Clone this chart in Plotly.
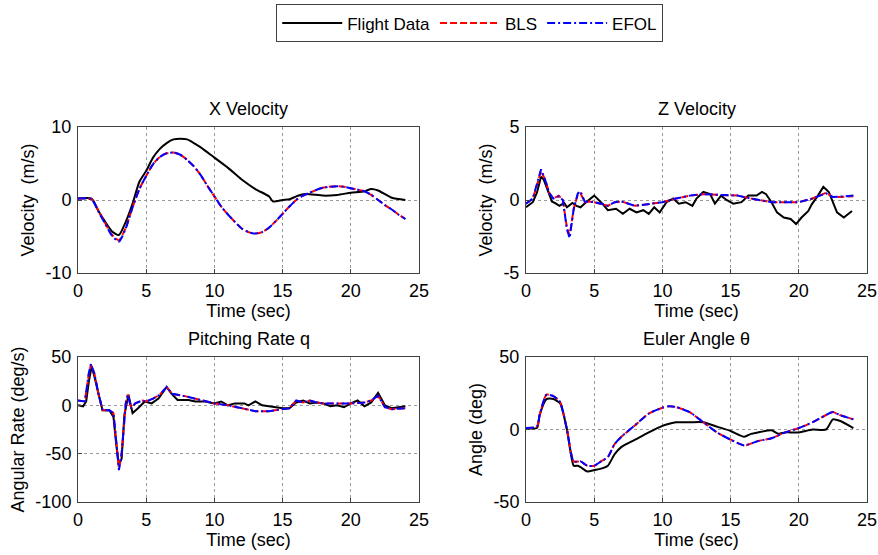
import plotly.graph_objects as go

# ---------------- data ----------------
xv_t_flight = [0, 1, 1.5, 2, 2.5, 3, 3.5, 4, 4.5, 5, 5.5, 6, 6.5, 7, 7.5, 8, 8.5, 9, 10, 11, 12, 13, 14, 14.3, 15, 15.5, 16, 16.5, 17, 18, 19, 20, 21, 21.5, 22, 23, 24]
xv_flight = [0.2, 0.2, -1.5, -3.0, -4.3, -4.8, -3.0, -0.5, 2.5, 4.0, 5.8, 7.0, 7.8, 8.3, 8.4, 8.3, 7.8, 7.2, 5.8, 4.4, 2.8, 1.5, 0.5, -0.2, 0.0, 0.1, 0.5, 0.8, 0.8, 0.6, 0.7, 1.0, 1.2, 1.5, 1.3, 0.3, 0.0]
xv_t_model = [0, 1, 1.5, 2, 2.5, 3, 3.5, 4, 4.5, 5, 5.5, 6, 6.5, 7, 7.5, 8, 8.5, 9, 9.5, 10, 10.5, 11, 11.5, 12, 12.5, 13, 13.5, 14, 14.5, 15, 15.5, 16, 16.5, 17, 17.5, 18, 19, 19.5, 20, 21, 21.5, 22, 22.5, 23, 23.5, 24]
xv_bls = [0.2, 0.1, -1.5, -3.2, -4.8, -5.5, -3.8, -1.0, 1.5, 3.3, 4.9, 5.9, 6.4, 6.5, 6.2, 5.5, 4.6, 3.4, 1.9, 0.5, -0.9, -2.0, -3.0, -3.9, -4.4, -4.6, -4.4, -3.8, -2.9, -1.9, -0.9, 0.0, 0.6, 1.0, 1.4, 1.7, 1.9, 1.8, 1.6, 1.2, 0.7, 0.0, -0.7, -1.3, -2.0, -2.6]
xv_efol = [0.2, 0.1, -1.6, -3.3, -4.9, -5.7, -3.9, -1.0, 1.5, 3.3, 4.9, 5.9, 6.4, 6.5, 6.2, 5.5, 4.6, 3.4, 1.9, 0.5, -0.9, -2.0, -3.0, -3.9, -4.4, -4.6, -4.4, -3.8, -2.9, -1.9, -0.9, 0.0, 0.6, 1.0, 1.4, 1.7, 1.9, 1.8, 1.6, 1.2, 0.7, 0.0, -0.7, -1.3, -2.0, -2.6]

zv_t_flight = [0, 0.5, 0.8, 1.1, 1.3, 1.6, 1.9, 2.2, 2.45, 2.8, 3.0, 3.4, 3.7, 4.0, 4.4, 5.0, 5.6, 6.0, 6.6, 7.1, 7.6, 8.1, 8.6, 9.0, 9.4, 9.8, 10.3, 10.8, 11.2, 11.7, 12.2, 12.5, 13.0, 13.5, 13.85, 14.3, 14.7, 15.2, 15.8, 16.3, 16.9, 17.3, 17.6, 18.0, 18.4, 18.9, 19.4, 19.8, 20.2, 20.7, 20.95, 21.4, 21.8, 22.2, 22.5, 22.8, 23.3, 23.6, 23.9]
zv_flight = [-0.5, -0.15, 0.5, 1.6, 1.4, 0.6, -0.1, -0.25, -0.4, -0.2, -0.5, -0.2, -0.4, -0.5, -0.15, 0.3, -0.25, -0.7, -0.6, -0.95, -0.6, -0.85, -0.7, -0.95, -0.5, -0.85, -0.15, 0.1, -0.25, -0.15, -0.4, 0.1, 0.55, 0.4, -0.25, 0.3, 0.0, -0.25, -0.15, 0.3, 0.3, 0.55, 0.4, -0.15, -0.85, -1.2, -1.3, -1.65, -1.2, -0.75, -0.3, 0.3, 0.9, 0.55, -0.15, -0.85, -1.2, -0.95, -0.75]
zv_t_model = [0, 0.5, 0.8, 1.1, 1.4, 1.7, 2.0, 2.4, 2.7, 3.0, 3.2, 3.5, 3.8, 4.0, 4.3, 4.6, 5, 5.5, 6, 6.5, 7, 8, 9, 10, 11, 12, 13, 14, 15, 15.5, 16.5, 17.5, 18, 19, 20, 21, 21.5, 22, 22.5, 23, 24]
zv_bls = [-0.25, 0.1, 1.0, 2.0, 1.4, 0.5, 0.1, 0.3, 0.0, -1.9, -2.4, -0.6, 0.4, 0.45, -0.15, -0.1, -0.15, -0.25, -0.4, -0.15, -0.1, -0.4, -0.25, -0.15, 0.1, 0.3, 0.4, 0.35, 0.3, 0.3, 0.1, -0.1, -0.15, -0.15, -0.15, 0.1, 0.3, 0.5, 0.2, 0.2, 0.25]
zv_efol = [-0.25, 0.1, 1.1, 2.1, 1.4, 0.5, 0.1, 0.25, 0.0, -2.0, -2.6, -0.6, 0.45, 0.6, -0.1, -0.1, -0.15, -0.25, -0.4, -0.15, -0.1, -0.4, -0.25, -0.15, 0.1, 0.3, 0.4, 0.35, 0.3, 0.3, 0.1, -0.1, -0.15, -0.15, -0.15, 0.1, 0.3, 0.45, 0.2, 0.25, 0.3]

q_t_flight = [0, 0.37, 0.6, 0.8, 1.0, 1.2, 1.5, 1.8, 2.3, 2.6, 2.8, 3.0, 3.2, 3.4, 3.7, 4.0, 4.4, 4.9, 5.4, 5.9, 6.5, 6.85, 7.3, 8.1, 8.6, 9.3, 10, 10.5, 11, 11.5, 12.2, 12.5, 13, 13.5, 14, 14.5, 15, 15.5, 16, 16.5, 17, 17.5, 18, 18.5, 19, 19.5, 20, 20.5, 21, 21.5, 22, 22.5, 23, 23.5, 24]
q_flight = [0, -1, 4, 25, 40, 30, 12, -5, -5, -12, -40, -62, -55, -10, 11, -8, -3, 4, 2, 7, 19, 12, 5.5, 5.5, 4, 4, 2, 4, 0, 2, 2, 0, 4, 0, -1, -2, -3, -3, 3, 5, 2, 3, 2, -1, 0, -2, 2, 5, -1, 3, 13, 0, -3, -2, -1]
q_t_model = [0, 0.5, 0.8, 0.95, 1.2, 1.5, 1.8, 2.3, 2.6, 2.8, 3.0, 3.2, 3.5, 3.65, 3.9, 4.2, 4.7, 5, 5.5, 6, 6.5, 6.9, 7.3, 8, 9, 10, 11, 12, 13, 14, 15, 15.5, 16, 16.5, 17, 17.5, 18, 19, 20, 21, 21.5, 22, 22.5, 23, 24]
q_bls = [5, 4, 33, 42, 33, 12, -5, -5, -8, -40, -65, -50, 2, 11, -3, 2, 5, 4, 7, 11, 19, 12, 11, 9, 5.5, 2, 0, -3, -6, -6, -4, -3, 5, 3, 5, 3, 2, 2, 2, 3, 5, 10, -2, -4, -3]
q_efol = [5, 4, 34, 43, 33, 12, -5, -5, -8, -41, -67, -50, 2, 11, -3, 2, 5, 4, 7, 11, 19, 12, 11, 9, 5.5, 2, 0, -3, -6, -6, -4, -3, 5, 3, 5, 3, 2, 2, 2, 3, 5, 10, -2, -4, -3]

th_t_flight = [0, 0.8, 1, 1.5, 2, 2.5, 3, 3.5, 3.8, 4.0, 4.5, 5, 5.5, 6, 6.5, 7, 8, 9, 10, 10.5, 11, 12, 13, 14, 15, 16, 16.5, 17, 18, 18.5, 19, 20, 21, 22, 22.5, 23, 24]
th_flight = [1, 1, 10, 21, 21, 18, 0, -25, -25, -26, -29, -28, -27, -25, -17, -12, -7, -2, 2.5, 4, 5, 5, 5, 2, -1, -5, -3, -2, -0.5, -3, -2, -2, 0, 0, 7, 6, 1]
th_t_model = [0, 0.8, 1, 1.5, 2, 2.5, 3, 3.5, 4, 4.5, 5, 5.5, 6, 6.5, 7, 8, 9, 10, 10.5, 11, 12, 13, 14, 15, 16, 17, 18, 19, 20, 21, 22, 22.5, 23, 24]
th_bls = [1, 2, 10, 24, 23, 19, 0, -22, -22, -25, -25, -22, -19, -10, -5, 3, 11, 15, 16, 15.5, 12, 5, -2, -7, -11, -8, -6, -2, 1, 5, 10, 12, 10, 7]
th_efol = [1, 2, 10, 24, 23, 19, 0, -22, -22, -25, -25, -22, -19, -10, -5, 3, 11, 15, 16, 15.5, 12, 5, -2, -7, -11, -8, -6, -2, 1, 5, 10, 12, 10, 7]

subplot_titles = ["X Velocity", "Z Velocity", "Pitching Rate q", "Euler Angle \u03b8"]
y_titles = ["Velocity\u00a0\u00a0(m/s)", "Velocity\u00a0\u00a0(m/s)", "Angular Rate (deg/s)", "Angle (deg)"]
x_title = "Time (sec)"
y_ticks = [[-10, 0, 10], [-5, 0, 5], [-100, -50, 0, 50], [-50, 0, 50]]
x_ticks = [0, 5, 10, 15, 20, 25]
series_names = ["Flight Data", "BLS", "EFOL"]

panels = [
    (xv_t_flight, xv_flight, xv_t_model, xv_bls, xv_efol, "spline"),
    (zv_t_flight, zv_flight, zv_t_model, zv_bls, zv_efol, "linear"),
    (q_t_flight, q_flight, q_t_model, q_bls, q_efol, "linear"),
    (th_t_flight, th_flight, th_t_model, th_bls, th_efol, "spline"),
]

# ---------------- layout geometry ----------------
W, H = 878, 555
xdoms = [[78 / W, 419 / W], [526 / W, 867 / W]]
ydoms = [[1 - 273 / H, 1 - 127 / H], [1 - 502 / H, 1 - 357 / H]]
FONT = "Liberation Sans, Arial, sans-serif"

fig = go.Figure()
for i, (tf, yf, tm, yb, ye, shape) in enumerate(panels):
    ax = "" if i == 0 else str(i + 1)
    show = i == 0
    fig.add_trace(go.Scatter(x=tf, y=yf, mode="lines", name=series_names[0], showlegend=show,
                             line=dict(color="black", width=2, shape=shape, smoothing=0.6),
                             xaxis="x" + ax, yaxis="y" + ax))
    fig.add_trace(go.Scatter(x=tm, y=yb, mode="lines", name=series_names[1], showlegend=show,
                             line=dict(color="#ff0000", width=2, dash="7px,3px", shape=shape, smoothing=0.6),
                             xaxis="x" + ax, yaxis="y" + ax))
    fig.add_trace(go.Scatter(x=tm, y=ye, mode="lines", name=series_names[2], showlegend=show,
                             line=dict(color="#0000ff", width=2, dash="8px,3px,2px,3px", shape=shape, smoothing=0.6),
                             xaxis="x" + ax, yaxis="y" + ax))

axis_common = dict(showline=True, linecolor="#404040", linewidth=1, mirror=True,
                   ticks="inside", ticklen=4, tickcolor="#404040",
                   showgrid=True, gridcolor="#9a9a9a", griddash="dot", gridwidth=1,
                   zeroline=False, automargin=False,
                   tickfont=dict(size=18, color="black", family=FONT))

layout = dict(width=W, height=H, margin=dict(l=0, r=0, t=0, b=0),
              paper_bgcolor="white", plot_bgcolor="white",
              font=dict(family=FONT, color="black", size=18),
              showlegend=True,
              legend=dict(orientation="h", x=0.535, xanchor="center", y=0.992, yanchor="top",
                          bordercolor="#404040", borderwidth=1, bgcolor="white", itemwidth=60,
                          font=dict(size=17, family=FONT), tracegroupgap=0),
              annotations=[])

for i in range(4):
    r, c = divmod(i, 2)
    ax = "" if i == 0 else str(i + 1)
    yt = y_ticks[i]
    layout["xaxis" + ax] = dict(axis_common, domain=xdoms[c], range=[0, 25], tickvals=x_ticks,
                                anchor="y" + ax, ticklabelstandoff=1,
                                title=dict(text=x_title, standoff=2, font=dict(size=18, family=FONT)))
    layout["yaxis" + ax] = dict(axis_common, domain=ydoms[r], range=[yt[0], yt[-1]], tickvals=yt,
                                ticktext=[str(v) for v in yt], anchor="x" + ax, ticklabelstandoff=2,
                                title=dict(text=y_titles[i], standoff=6, font=dict(size=18, family=FONT)))
    layout["annotations"].append(dict(text=subplot_titles[i], x=sum(xdoms[c]) / 2, xanchor="center",
                                      y=ydoms[r][1], yanchor="bottom", yshift=6,
                                      xref="paper", yref="paper", showarrow=False,
                                      font=dict(size=18, family=FONT)))

fig.update_layout(**layout)
fig.write_html("out.html")
